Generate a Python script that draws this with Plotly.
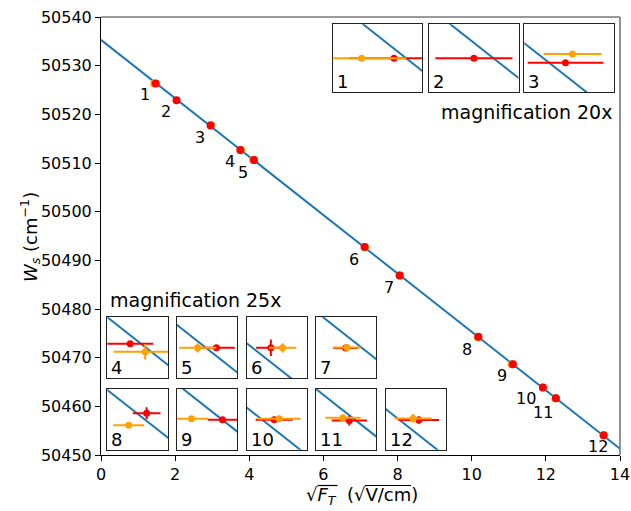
import plotly.graph_objects as go

# ---------------- data ----------------
point_labels = ["1", "2", "3", "4", "5", "6", "7", "8", "9", "10", "11", "12"]
red_x = [1.4780, 2.0370, 2.9560, 3.7580, 4.1270, 7.1090, 8.0550, 10.1800, 11.1100, 11.9200, 12.2700, 13.5600]
red_y = [50526.332, 50522.919, 50517.697, 50512.681, 50510.606, 50492.765, 50486.863, 50474.283, 50468.643, 50463.858, 50461.637, 50454.065]
red_xerr = [0.060, 0.052, 0.051, 0.025, 0.020, 0.016, 0.0135, 0.015, 0.016, 0.020, 0.019, 0.022]
red_yerr = [0.0, 0.0, 0.0, 0.0, 0.020, 0.068, 0.0, 0.049, 0.0, 0.0, 0.041, 0.030]
orange_x = [1.4343, None, 2.9655, 3.7742, 4.1068, 7.1216, 8.0563, 10.1606, 11.0765, 11.9254, 12.2632, 13.5539]
orange_y = [50526.332, None, 50517.786, 50512.616, 50510.606, 50492.765, 50486.866, 50474.185, 50468.650, 50463.867, 50461.659, 50454.078]
orange_xerr = [0.060, None, 0.039, 0.034, 0.020, 0.0148, 0.015, 0.0166, 0.018, 0.023, 0.019, 0.020]
orange_yerr = [0.0, None, 0.0, 0.064, 0.038, 0.038, 0.0, 0.022, 0.0, 0.0, 0.010, 0.036]
fit_intercept = 50535.3
fit_slope = -6.0
x_range = [0, 14]
y_range = [50450, 50540]
x_ticks = [0, 2, 4, 6, 8, 10, 12, 14]
y_ticks = [50450, 50460, 50470, 50480, 50490, 50500, 50510, 50520, 50530, 50540]

# ---------------- layout constants ----------------
W, H = 631, 511
ML, MR, MT, MB = 101, 11, 17, 56
PW, PH = W - ML - MR, H - MT - MB
RED = "#ff0000"
ORANGE = "#ffa000"
BLUE = "#1f77b4"
FONT = "DejaVu Sans"
FS = 16

def px2paper(px, py):
    return (px - ML) / PW, (H - MB - py) / PH

# inset boxes in pixels: (left, top, right, bottom), magnification
top_cols = [(333.3, 422.3), (429.3, 518.5), (524.3, 613.7)]
bot_cols = [(107.3, 168.0), (177.0, 237.0), (246.7, 306.7), (316.0, 376.3), (385.7, 446.3)]
row_top = (24.3, 92.3)
row1 = (317.3, 378.3)
row2 = (388.7, 449.7)
boxes = []
for c in top_cols:
    boxes.append((c[0], row_top[0], c[1], row_top[1], 20))
for c in bot_cols[:4]:
    boxes.append((c[0], row1[0], c[1], row1[1], 25))
for c in bot_cols:
    boxes.append((c[0], row2[0], c[1], row2[1], 25))

# label offsets (px, screen coords) for main-plot point labels
label_off = [(-11, 11.3), (-10.7, 11.7), (-10.7, 12), (-10.3, 12), (-10.7, 12.3), (-11, 12.3),
             (-11, 12), (-11, 12.7), (-11.3, 11.7), (-16.6, 11), (-13.3, 14), (-6, 11.7)]

def fit(x):
    return fit_intercept + fit_slope * x

fig = go.Figure()

# main fit line
fig.add_trace(go.Scatter(x=x_range, y=[fit(v) for v in x_range], mode="lines",
                         line=dict(color=BLUE, width=2), hoverinfo="skip", showlegend=False))
# main points
fig.add_trace(go.Scatter(x=orange_x, y=orange_y, mode="markers",
                         marker=dict(color=ORANGE, size=8), showlegend=False))
fig.add_trace(go.Scatter(x=red_x, y=red_y, mode="markers",
                         marker=dict(color=RED, size=8), showlegend=False))

annotations = []
for i, lab in enumerate(point_labels):
    dx, dy = label_off[i]
    annotations.append(dict(x=red_x[i], y=red_y[i], xref="x", yref="y", text=lab, showarrow=False,
                            xanchor="center", yanchor="middle", xshift=dx, yshift=-dy,
                            font=dict(family=FONT, size=FS, color="black")))

layout_axes = {}
for i, (l, t, r, b, mag) in enumerate(boxes):
    k = i + 2
    x0p, y1p = px2paper(l, t)
    x1p, y0p = px2paper(r, b)
    if orange_x[i] is not None:
        xc = (red_x[i] + orange_x[i]) / 2
        yc = (red_y[i] + orange_y[i]) / 2
    else:
        xc, yc = red_x[i], red_y[i]
    wx = (x1p - x0p) * (x_range[1] - x_range[0]) / mag
    wy = (y1p - y0p) * (y_range[1] - y_range[0]) / mag
    xr = [xc - wx / 2, xc + wx / 2]
    yr = [yc - wy / 2, yc + wy / 2]
    common = dict(showticklabels=False, ticks="", showgrid=False, zeroline=False, showline=True,
                  mirror=True, linecolor="#222", linewidth=1.3, automargin=False)
    layout_axes[f"xaxis{k}"] = dict(domain=[x0p, x1p], range=xr, anchor=f"y{k}", **common)
    layout_axes[f"yaxis{k}"] = dict(domain=[y0p, y1p], range=yr, anchor=f"x{k}", **common)
    lx = [xc - wx, xc + wx]
    fig.add_trace(go.Scatter(x=lx, y=[fit(v) for v in lx], mode="lines", xaxis=f"x{k}", yaxis=f"y{k}",
                             line=dict(color=BLUE, width=2), hoverinfo="skip", showlegend=False))
    fig.add_trace(go.Scatter(x=[red_x[i]], y=[red_y[i]], mode="markers", xaxis=f"x{k}", yaxis=f"y{k}",
                             marker=dict(color=RED, size=7),
                             error_x=dict(type="data", array=[red_xerr[i]], color=RED, thickness=2, width=0),
                             error_y=dict(type="data", array=[red_yerr[i]], color=RED, thickness=2, width=0),
                             showlegend=False))
    if orange_x[i] is not None:
        fig.add_trace(go.Scatter(x=[orange_x[i]], y=[orange_y[i]], mode="markers", xaxis=f"x{k}", yaxis=f"y{k}",
                                 marker=dict(color=ORANGE, size=7),
                                 error_x=dict(type="data", array=[orange_xerr[i]], color=ORANGE, thickness=2, width=0),
                                 error_y=dict(type="data", array=[orange_yerr[i]], color=ORANGE, thickness=2, width=0),
                                 showlegend=False))
    annotations.append(dict(x=0, y=0, xref=f"x{k} domain", yref=f"y{k} domain", text=point_labels[i],
                            showarrow=False, xanchor="left", yanchor="bottom", xshift=2, yshift=-2,
                            font=dict(family=FONT, size=18, color="black")))

# magnification texts
mx, my = px2paper(526, 112)
annotations.append(dict(x=mx, y=my, xref="paper", yref="paper", text="magnification 20x", showarrow=False,
                        xanchor="center", yanchor="middle", font=dict(family=FONT, size=19, color="black")))
mx, my = px2paper(195.5, 300)
annotations.append(dict(x=mx, y=my, xref="paper", yref="paper", text="magnification 25x", showarrow=False,
                        xanchor="center", yanchor="middle", font=dict(family=FONT, size=19, color="black")))
# axis titles
tx, ty = px2paper(30, 237)
annotations.append(dict(x=tx, y=ty, xref="paper", yref="paper",
                        text="<i>W</i><sub><i>s</i></sub> (cm<sup>−1</sup>)", showarrow=False, textangle=-90,
                        xanchor="center", yanchor="middle", font=dict(family=FONT, size=18, color="black")))
tx, ty = px2paper(362, 495.5)
annotations.append(dict(x=tx, y=ty, xref="paper", yref="paper",
                        text="√<i>F</i><sub><i>T</i></sub>\u00a0\u00a0(√V/cm)",
                        showarrow=False, xanchor="center", yanchor="middle",
                        font=dict(family=FONT, size=18, color="black")))

# vinculum bars over the radicands of the x title
shapes = [dict(type="line", xref="paper", yref="paper", x0=0, x1=1, y0=1, y1=1,
               line=dict(color="#777", width=1.6)),
          dict(type="line", xref="paper", yref="paper", x0=1, x1=1, y0=0, y1=1,
               line=dict(color="#777", width=1.6))]
for (a, b) in [(317.5, 337.5), (365, 411)]:
    p0x, p0y = px2paper(a, 485.5)
    p1x, _ = px2paper(b, 485.5)
    shapes.append(dict(type="line", xref="paper", yref="paper", x0=p0x, x1=p1x, y0=p0y, y1=p0y,
                       line=dict(color="black", width=1.2)))

axis_common = dict(ticks="outside", ticklen=5, tickcolor="black", tickwidth=1,
                   showline=True, linecolor="black", linewidth=1, showgrid=False, zeroline=False,
                   automargin=False, tickfont=dict(family=FONT, size=FS, color="black"))
fig.update_layout(
    width=W, height=H, margin=dict(l=ML, r=MR, t=MT, b=MB, autoexpand=False),
    paper_bgcolor="white", plot_bgcolor="white",
    font=dict(family=FONT, size=FS, color="black"),
    xaxis=dict(range=x_range, tickmode="array", tickvals=x_ticks,
               ticktext=[str(v) for v in x_ticks], **axis_common),
    yaxis=dict(range=y_range, tickmode="array", tickvals=y_ticks,
               ticktext=[str(v) for v in y_ticks], **axis_common),
    annotations=annotations,
    shapes=shapes,
    **layout_axes,
)

fig.write_html("out.html")
